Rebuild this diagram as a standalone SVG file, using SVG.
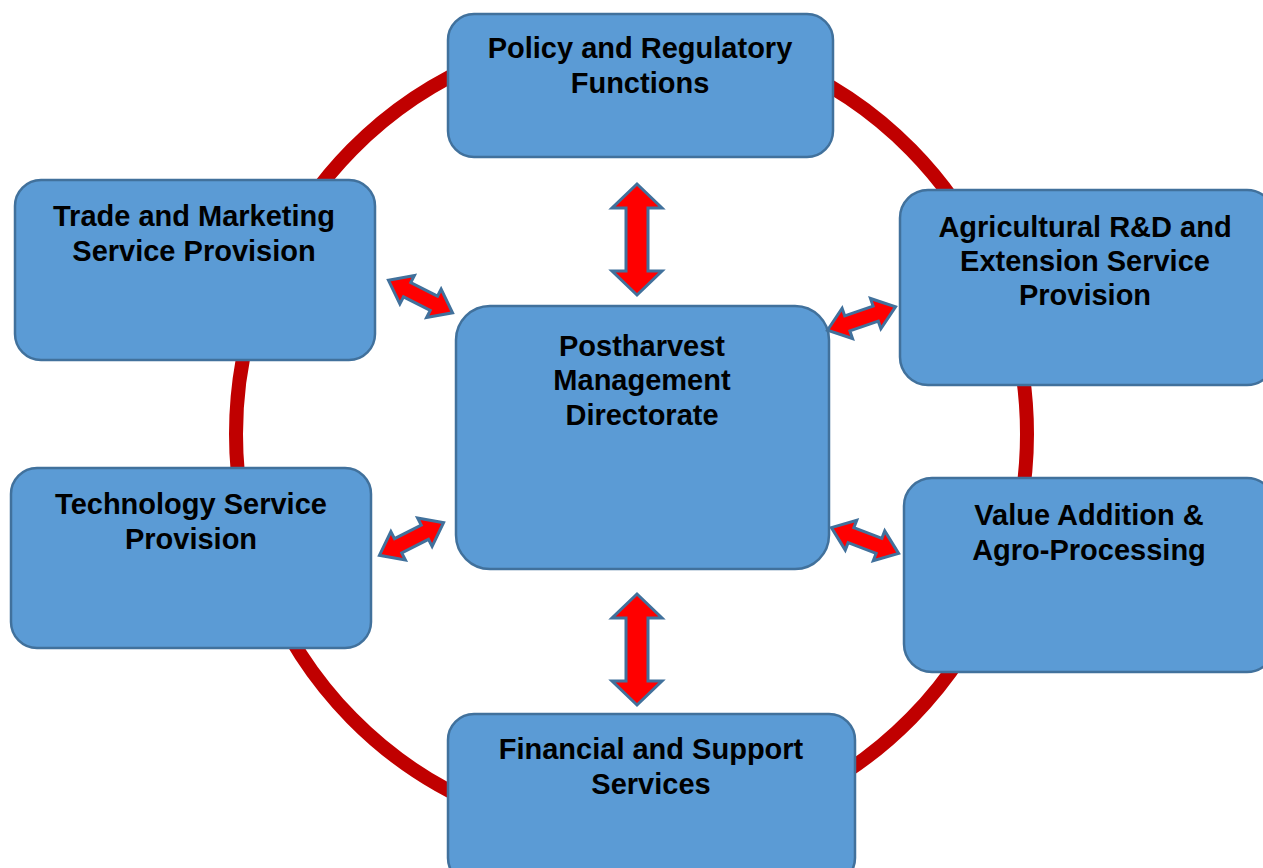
<svg xmlns="http://www.w3.org/2000/svg" width="1263" height="868" viewBox="0 0 1263 868">
<style>
.box{fill:#5B9BD5;stroke:#41719C;stroke-width:2.5}
.t{font-family:"Liberation Sans",Arial,sans-serif;font-weight:bold;font-size:29px;fill:#000;text-anchor:middle}
.arr{fill:#FF0000;stroke:#41719C;stroke-width:3;stroke-linejoin:miter}
</style>
<defs>
<path id="da" d="M-36 0 L-15 -16 L-15 -8 L15 -8 L15 -16 L36 0 L15 16 L15 8 L-15 8 L-15 16 Z"/>
</defs>
<rect width="1263" height="868" fill="#fff"/>
<g id="connectors">
<ellipse cx="631.5" cy="434" rx="395.5" ry="402" fill="none" stroke="#C00000" stroke-width="14"/>
</g>
<g id="policy"><rect class="box" x="448" y="14" width="385" height="143" rx="26"/>
<text class="t" x="640" y="58">Policy and Regulatory</text><text class="t" x="640" y="93">Functions</text></g>
<g id="trade"><rect class="box" x="15" y="180" width="360" height="180" rx="26"/>
<text class="t" x="194" y="226">Trade and Marketing</text><text class="t" x="194" y="261">Service Provision</text></g>
<g id="agri"><rect class="box" x="900" y="190" width="375" height="195" rx="28"/>
<text class="t" x="1085" y="237">Agricultural R&amp;D and</text><text class="t" x="1085" y="271">Extension Service</text><text class="t" x="1085" y="305">Provision</text></g>
<g id="center"><rect class="box" x="456" y="306" width="373" height="263" rx="34"/>
<text class="t" x="642" y="356">Postharvest</text><text class="t" x="642" y="390">Management</text><text class="t" x="642" y="425">Directorate</text></g>
<g id="technology"><rect class="box" x="11" y="468" width="360" height="180" rx="26"/>
<text class="t" x="191" y="514">Technology Service</text><text class="t" x="191" y="549">Provision</text></g>
<g id="value"><rect class="box" x="904" y="478" width="371" height="194" rx="28"/>
<text class="t" x="1089" y="525">Value Addition &amp;</text><text class="t" x="1089" y="560">Agro-Processing</text></g>
<g id="financial"><rect class="box" x="448" y="714" width="407" height="170" rx="26"/>
<text class="t" x="651" y="759">Financial and Support</text><text class="t" x="651" y="794">Services</text></g>
<g id="arrows">
<path class="arr" d="M637 184 L662 208 L648 208 L648 271 L662 271 L637 295 L612 271 L626 271 L626 208 L612 208 Z"/>
<path class="arr" d="M637 594 L662 618 L648 618 L648 681 L662 681 L637 705 L612 681 L626 681 L626 618 L612 618 Z"/>
<use href="#da" class="arr" transform="translate(420.5 296.5) rotate(27)"/>
<use href="#da" class="arr" transform="translate(861.5 318.5) rotate(-19)"/>
<use href="#da" class="arr" transform="translate(411.5 539) rotate(-27)"/>
<use href="#da" class="arr" transform="translate(865 540.5) rotate(21)"/>
</g>
</svg>
